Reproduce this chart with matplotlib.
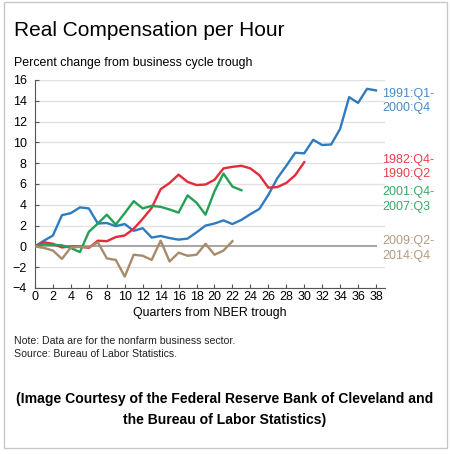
import numpy as np
import matplotlib
matplotlib.use('Agg')
import matplotlib.pyplot as plt
from matplotlib.patches import Rectangle

plt.rcParams['font.family'] = ['Liberation Sans', 'DejaVu Sans']

# %% data (percent change from trough)
s1991 = [0, 0.55, 1.05, 3.0, 3.2, 3.75, 3.65, 2.2, 2.25, 1.95, 2.15, 1.5, 1.75,
         0.85, 1.0, 0.8, 0.65, 0.75, 1.35, 2.0, 2.2, 2.5, 2.15, 2.55, 3.1, 3.6,
         4.95, 6.55, 7.75, 9.0, 8.95, 10.25, 9.75, 9.8, 11.3, 14.35, 13.8,
         15.15, 15.0]
s1982 = [0, 0.4, 0.25, -0.1, 0.0, 0.0, -0.15, 0.55, 0.5, 0.9, 1.05, 1.7, 2.65,
         3.7, 5.5, 6.1, 6.9, 6.2, 5.9, 5.95, 6.4, 7.5, 7.65, 7.75, 7.5, 6.85,
         5.65, 5.7, 6.1, 6.85, 8.1]
s2001 = [0, 0.2, 0.15, 0.1, -0.15, -0.55, 1.4, 2.2, 3.05, 2.1, 3.2, 4.35, 3.65,
         3.9, 3.8, 3.55, 3.25, 4.9, 4.2, 3.05, 5.3, 7.0, 5.75, 5.4]
s2009 = [0, -0.15, -0.4, -1.2, -0.1, -0.05, -0.1, 0.4, -1.15, -1.3, -2.9, -0.8,
         -0.9, -1.3, 0.55, -1.45, -0.6, -0.9, -0.8, 0.25, -0.8, -0.4, 0.5]

labels = ['1991:Q1-\n2000:Q4', '1982:Q4-\n1990:Q2', '2001:Q4-\n2007:Q3',
          '2009:Q2-\n2014:Q4']
label_y = [14.0, 7.65, 4.5, -0.2]
series = [s1991, s1982, s2001, s2009]
colors = ['#2f7bc0', '#e32b3a', '#24a055', '#a88a6c']
label_colors = ['#4a8bc8', '#e5404c', '#3aa865', '#b39a80']

xticks = list(range(0, 39, 2))
yticks = list(range(-4, 17, 2))

# %% figure
fig = plt.figure(figsize=(4.5, 4.54), dpi=100)
fig.patches.append(Rectangle((4/450, 6/454), 443/450, 446/454,
                             transform=fig.transFigure, fill=False,
                             edgecolor='#c8c8c8', linewidth=1.0))

ax = fig.add_axes([35/450, (454-288)/454, 350/450, 208/454])

for yv in yticks:
    if yv != 0:
        ax.axhline(yv, color='#e2e2e2', linewidth=1.0, zorder=0)
ax.plot([0, 38], [0, 0], color='#a8a8a8', linewidth=1.5, zorder=1)

for s, c in zip(series, colors):
    ax.plot(np.arange(len(s)), s, color=c, linewidth=1.7, zorder=3)

for lab, yv, c in zip(labels, label_y, label_colors):
    ax.text(38.7, yv, lab, color=c, fontsize=9, va='center', ha='left',
            linespacing=1.25, clip_on=False)

ax.set_xlim(0, 39)
ax.set_ylim(-4, 16)
ax.set_xticks(xticks)
ax.set_yticks(yticks)
ax.tick_params(direction='in', length=3, width=0.8, color='#555555',
               labelsize=9, pad=2)
ax.tick_params(axis='y', pad=6)
ax.spines['top'].set_visible(False)
ax.spines['right'].set_visible(False)
ax.spines['left'].set_color('#555555')
ax.spines['bottom'].set_color('#555555')
ax.set_xlabel('Quarters from NBER trough', fontsize=8.9, labelpad=3)

# %% texts
fig.text(14/450, 1-36/454, 'Real Compensation per Hour', fontsize=15,
         ha='left', va='baseline')
fig.text(14/450, 1-66/454, 'Percent change from business cycle trough',
         fontsize=8.9, ha='left', va='baseline')
fig.text(14/450, 1-344/454, 'Note: Data are for the nonfarm business sector.',
         fontsize=7.6, ha='left', va='baseline', color='#222222')
fig.text(14/450, 1-357/454, 'Source: Bureau of Labor Statistics.',
         fontsize=7.6, ha='left', va='baseline', color='#222222')
fig.text(0.5, 1-403/454,
         '(Image Courtesy of the Federal Reserve Bank of Cleveland and',
         fontsize=10.1, weight='bold', ha='center', va='baseline')
fig.text(0.5, 1-424/454, 'the Bureau of Labor Statistics)',
         fontsize=10.1, weight='bold', ha='center', va='baseline')

plt.savefig('out.png', dpi=100)
